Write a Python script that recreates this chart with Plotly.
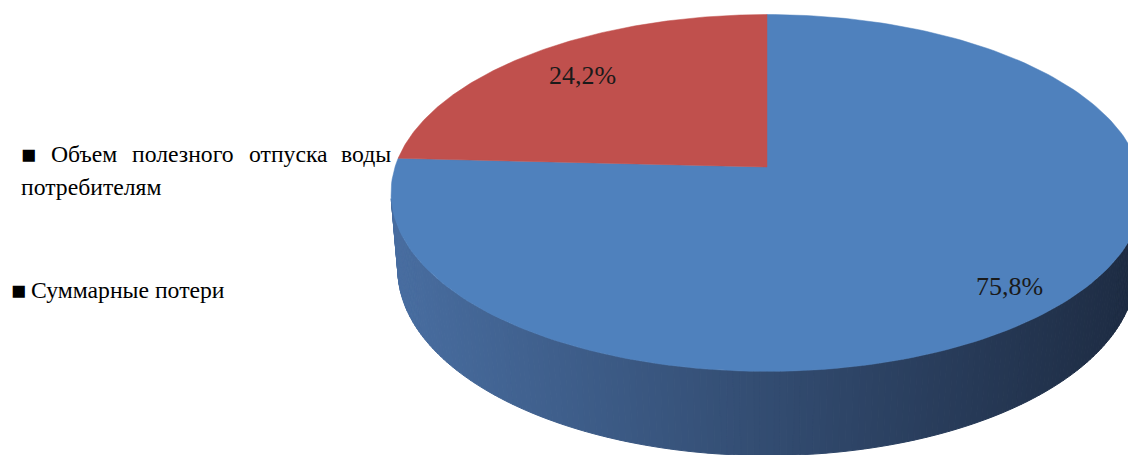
import numpy as np
import plotly.graph_objects as go

# --- data -------------------------------------------------------------
categories = ["Объем полезного отпуска воды потребителям", "Суммарные потери"]
shares = [75.8, 24.2]          # percent of total
slice_colors = ["#4f81bd", "#c0504d"]

# --- geometry of the tilted (perspective) pie, in page pixels ----------
W, H = 1128, 455
CX, CY = 767, 167              # screen position of pie centre
FOCAL = 2258.0
DIST = 6.07
TILT = np.radians(28)
THICK = 0.235                  # pie thickness relative to radius
COS_T, SIN_T = np.cos(TILT), np.sin(TILT)
SERIF = "Liberation Serif"


def project(u, w, h=0.0):
    """Perspective projection of a point on the pie (u right, w back, h up)."""
    yc = w * SIN_T + h * COS_T
    zc = DIST + w * COS_T - h * SIN_T
    return CX + FOCAL * u / zc, CY - FOCAL * yc / zc


def lerp_color(c0, c1, t):
    t = min(max(t, 0.0), 1.0)
    r, g, b = (round(a + (b_ - a) * t) for a, b_ in zip(c0, c1))
    return f"rgb({r},{g},{b})"


fig = go.Figure()

# --- side wall (only the part facing the viewer), shaded left to right --
k = 1.0 / (DIST * COS_T)
t_lo = np.pi + np.arcsin(k) - 0.01
t_hi = 2 * np.pi - np.arcsin(k) + 0.01
ts = np.linspace(t_lo, t_hi, 181)
side_left, side_right = (72, 109, 160), (29, 43, 66)
for a, b in zip(ts[:-1], ts[1:]):
    xa0, ya0 = project(np.cos(a), np.sin(a), 0)
    xb0, yb0 = project(np.cos(b), np.sin(b), 0)
    xb1, yb1 = project(np.cos(b), np.sin(b), -THICK)
    xa1, ya1 = project(np.cos(a), np.sin(a), -THICK)
    col = lerp_color(side_left, side_right, ((xa0 + xb0) / 2 - 395) / (1140 - 395))
    fig.add_trace(go.Scatter(
        x=[xa0, xb0, xb1, xa1, xa0], y=[ya0, yb0, yb1, ya1, ya0],
        mode="lines", fill="toself", fillcolor=col,
        line=dict(color=col, width=1), hoverinfo="skip", showlegend=False))

# --- top face: slices start at 12 o'clock and run clockwise -------------
total = sum(shares)
cum = 0.0
mid_angles = []
for val, col in zip(shares, slice_colors):
    a0 = np.pi / 2 - 2 * np.pi * cum / total
    a1 = np.pi / 2 - 2 * np.pi * (cum + val) / total
    cum += val
    mid_angles.append((a0 + a1) / 2)
    arc = np.linspace(a0, a1, 200)
    px, py = project(np.cos(arc), np.sin(arc))
    xs = [CX] + list(px) + [CX]
    ys = [CY] + list(py) + [CY]
    fig.add_trace(go.Scatter(
        x=xs, y=ys, mode="lines", fill="toself", fillcolor=col,
        line=dict(color=col, width=0.5), hoverinfo="skip", showlegend=False))

# --- value labels on the slices -----------------------------------------
label_radius = [0.86, 0.78]
annotations = []
for val, ang, r in zip(shares, mid_angles, label_radius):
    lx, ly = project(r * np.cos(ang), r * np.sin(ang))
    annotations.append(dict(
        x=lx, y=ly, xref="x", yref="y", showarrow=False,
        text=f"{val:.1f}%".replace(".", ","),
        font=dict(family=SERIF, size=26, color="#1a1a1a")))

# --- legend (text entries with square bullets) ---------------------------
legend_font = dict(family=SERIF, size=23.7, color="#000000")
bullet_font = dict(family=SERIF, size=25, color="#000000")


def add_text(x, y, text, font, anchor="left"):
    annotations.append(dict(x=x, y=y, xref="x", yref="y", xanchor=anchor,
                            showarrow=False, text=text, font=font))


words = categories[0].split()
line1_x = [49, 130, 247, 393]           # justified first line
line1_anchor = ["left", "left", "left", "right"]
add_text(19, 154, "■", bullet_font)
for wd, wx, an in zip(words[:4], line1_x, line1_anchor):
    add_text(wx, 154, wd, legend_font, an)
add_text(19, 187, " ".join(words[4:]), legend_font)
add_text(9, 290, "■", bullet_font)
add_text(29, 290, categories[1], legend_font)

fig.update_layout(
    width=W, height=H,
    margin=dict(l=0, r=0, t=0, b=0),
    paper_bgcolor="white", plot_bgcolor="white",
    xaxis=dict(range=[0, W], visible=False, fixedrange=True),
    yaxis=dict(range=[H, 0], visible=False, fixedrange=True),
    annotations=annotations,
    showlegend=False,
)

fig.write_html("out.html", config={"displayModeBar": False})
